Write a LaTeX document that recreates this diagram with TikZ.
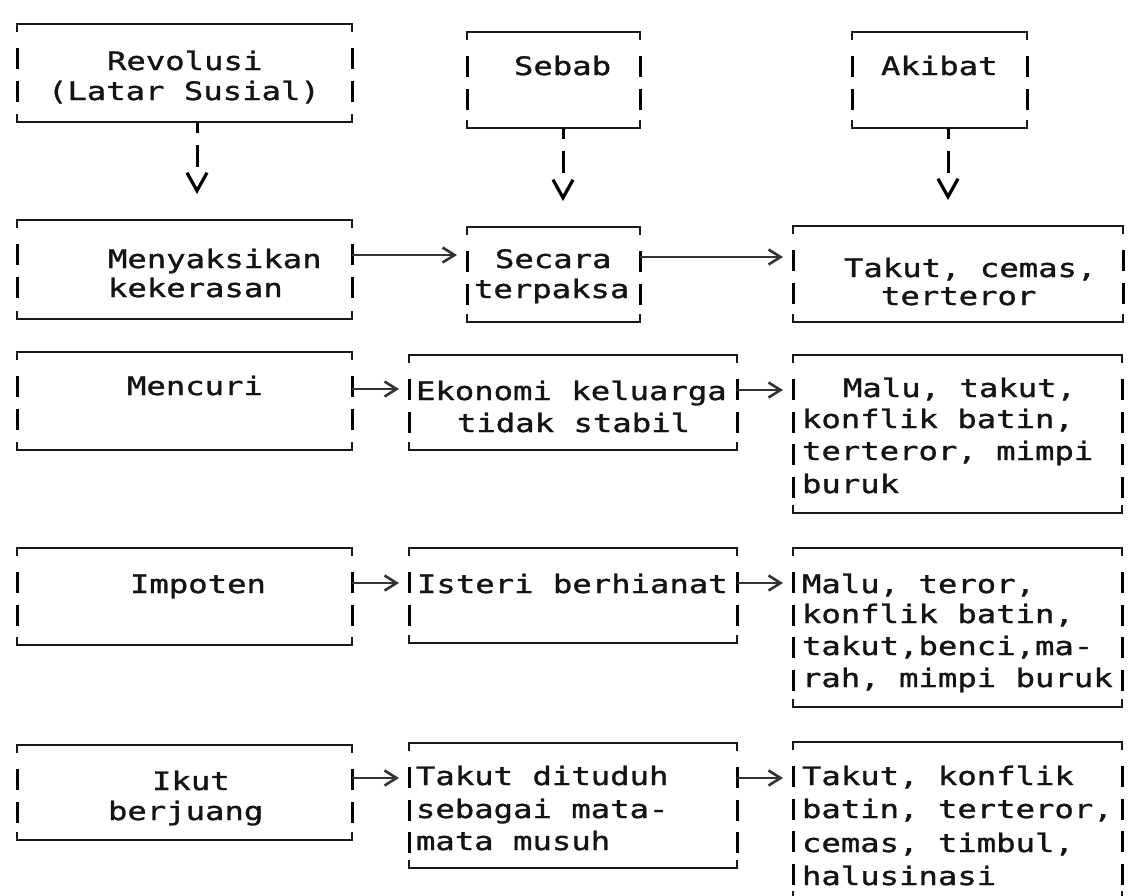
\documentclass[tikz,border=0pt]{standalone}
\usepackage{fontspec}
\newfontfamily\twfont[FakeStretch=1.27,FakeBold=1.2]{DejaVu Sans Mono}
\usetikzlibrary{arrows.meta}
\newcommand\tbox[6]{%
  \node[boxarea, minimum width={#4-#2}, minimum height={#5-#3}] (#1) at ({(#2+#4)/2},{(#3+#5)/2}) {};
  \draw[hline] ([yshift=-8pt]#1.north west) -- (#1.north west) -- (#1.north east) -- ([yshift=-8pt]#1.north east);
  \draw[hline] ([yshift=8pt]#1.south west) -- (#1.south west) -- (#1.south east) -- ([yshift=8pt]#1.south east);
  \foreach \rowi in {1,...,#6}{%
    \draw[vside] ([yshift={-24-32.5*(\rowi-1)}]#1.north west) -- ++(0,21);
    \draw[vside] ([yshift={-24-32.5*(\rowi-1)}]#1.north east) -- ++(0,21);
  }%
}
\newcommand\tline[4]{\node[txt] (#1) at (#2,#3) {#4};}
\begin{document}
\begin{tikzpicture}[x=1pt,y=-1pt,
  boxarea/.style={draw=none, inner sep=0pt, outer sep=0pt},
  hline/.style={draw=black!90, line width=2.3pt},
  vside/.style={draw=black, line width=3pt},
  txt/.style={inner sep=0pt, outer sep=0pt, anchor=base west, text=black!92,
    font=\twfont\fontsize{25.4}{30}\selectfont},
  hconn/.style={draw=black!80, line width=1.6pt, shorten >=10pt,
    -{Straight Barb[length=12pt,width=15pt,line width=2.6pt]}},
  vconn/.style={draw=black, line width=3pt, shorten >=26pt,
    dash pattern=on 11pt off 12pt on 22pt off 300pt,
    -{Straight Barb[length=18pt,width=20pt,line width=3.2pt]}}
]
\fill[white] (0,0) rectangle (1128,895);
\useasboundingbox (0,0) rectangle (1128,895);

% column 1
\tbox{A1}{17}{24}{352}{122}{2}
\tbox{A2}{17}{220}{352}{319}{2}
\tbox{A3}{17}{352}{352}{450}{2}
\tbox{A4}{17}{548}{352}{645}{2}
\tbox{A5}{17}{745}{352}{840}{2}
% column 2
\tbox{B1}{467}{32}{640}{128}{2}
\tbox{B2}{467}{227}{640}{322}{2}
\tbox{B3}{409}{355}{737}{450}{2}
\tbox{B4}{409}{548}{737}{643}{2}
\tbox{B5}{409}{743}{737}{868}{3}
% column 3
\tbox{C1}{852}{32}{1027}{128}{2}
\tbox{C2}{793}{226}{1123}{322}{2}
\tbox{C3}{793}{355}{1122}{513}{4}
\tbox{C4}{793}{548}{1122}{707}{4}
\tbox{C5}{793}{742}{1122}{899}{4}

% texts
\tline{A1a}{107}{70}{Revolusi}
\tline{A1b}{48}{100}{(Latar Susial)}
\tline{A2a}{108}{268}{Menyaksikan}
\tline{A2b}{108}{297}{kekerasan}
\tline{A3a}{127}{395}{Mencuri}
\tline{A4a}{130}{593}{Impoten}
\tline{A5a}{152}{790}{Ikut}
\tline{A5b}{108}{820}{berjuang}

\tline{B1a}{514}{75}{Sebab}
\tline{B2a}{495}{268}{Secara}
\tline{B2b}{474}{298}{terpaksa}
\tline{B3a}{416}{400}{Ekonomi keluarga}
\tline{B3b}{457}{432}{tidak stabil}
\tline{B4a}{417}{593}{Isteri berhianat}
\tline{B5a}{416}{785}{Takut dituduh}
\tline{B5b}{416}{818}{sebagai mata-}
\tline{B5c}{416}{850}{mata musuh}

\tline{C1a}{881}{75}{Akibat}
\tline{C2a}{844}{277}{Takut, cemas,}
\tline{C2b}{881}{305}{terteror}
\tline{C3a}{843}{397}{Malu, takut,}
\tline{C3b}{802}{428}{konflik batin,}
\tline{C3c}{802}{460}{terteror, mimpi}
\tline{C3d}{802}{493}{buruk}
\tline{C4a}{802}{593}{Malu, teror,}
\tline{C4b}{802}{623}{konflik batin,}
\tline{C4c}{802}{655}{takut,benci,ma-}
\tline{C4d}{802}{687}{rah, mimpi buruk}
\tline{C5a}{802}{785}{Takut, konflik}
\tline{C5b}{802}{818}{batin, terteror,}
\tline{C5c}{802}{852}{cemas, timbul,}
\tline{C5d}{802}{885}{halusinasi}

% vertical connectors
\coordinate (v1) at ([xshift=12.5pt]A1.south);
\coordinate (v2) at ([xshift=9.5pt]B1.south);
\coordinate (v3) at ([xshift=8.5pt]C1.south);
\draw[vconn] (v1) -- (v1 |- A2.north);
\draw[vconn] (v2) -- (v2 |- B2.north);
\draw[vconn] (v3) -- (v3 |- C2.north);

% horizontal connectors
\coordinate (h2a) at ([yshift=-35pt]A2.north east);
\coordinate (h2b) at ([yshift=-30pt]B2.north east);
\coordinate (h3a) at ([yshift=-37pt]A3.north east);
\coordinate (h3b) at ([yshift=-35pt]B3.north east);
\coordinate (h4a) at ([yshift=-35pt]A4.north east);
\coordinate (h4b) at ([yshift=-35pt]B4.north east);
\coordinate (h5a) at ([yshift=-33pt]A5.north east);
\coordinate (h5b) at ([yshift=-35pt]B5.north east);
\draw[hconn] (h2a) -- (h2a -| B2.west);
\draw[hconn] (h2b) -- (h2b -| C2.west);
\draw[hconn] (h3a) -- (h3a -| B3.west);
\draw[hconn] (h3b) -- (h3b -| C3.west);
\draw[hconn] (h4a) -- (h4a -| B4.west);
\draw[hconn] (h4b) -- (h4b -| C4.west);
\draw[hconn] (h5a) -- (h5a -| B5.west);
\draw[hconn] (h5b) -- (h5b -| C5.west);
\end{tikzpicture}
\end{document}
